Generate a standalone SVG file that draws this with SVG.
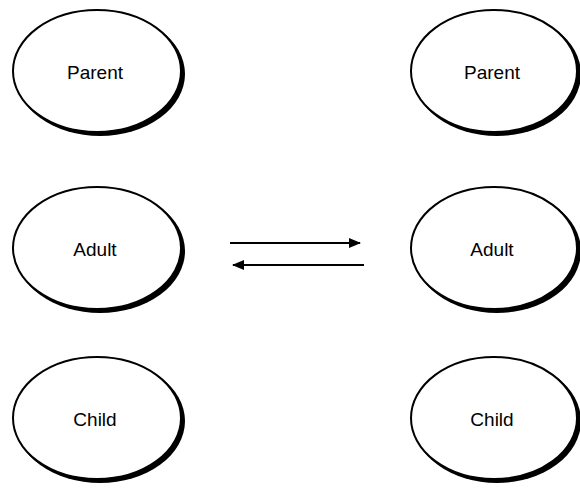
<svg xmlns="http://www.w3.org/2000/svg" width="580" height="488" viewBox="0 0 580 488">
  <style>
    .shadow { fill: #000; }
    .oval { fill: #fff; stroke: #000; stroke-width: 2; }
    .label { font-family: "Liberation Sans", Arial, sans-serif; font-size: 19px; fill: #000; text-anchor: middle; }
    .link { stroke: #000; stroke-width: 2; fill: none; }
  </style>
  <defs>
    <marker id="head" viewBox="0 0 12 10" refX="11" refY="5" markerWidth="12" markerHeight="10" markerUnits="userSpaceOnUse" orient="auto">
      <path d="M0,0 L12,5 L0,10 Z" fill="#000"/>
    </marker>
  </defs>
  <rect width="580" height="488" fill="#fff"/>

  <!-- left column -->
  <g id="left-parent">
    <ellipse class="shadow" cx="100" cy="74" rx="85" ry="62"/>
    <ellipse class="oval" cx="97" cy="71" rx="84" ry="61"/>
    <text class="label" x="95" y="79">Parent</text>
  </g>
  <g id="left-adult">
    <ellipse class="shadow" cx="100" cy="251" rx="85" ry="62"/>
    <ellipse class="oval" cx="97" cy="248" rx="84" ry="61"/>
    <text class="label" x="95" y="256">Adult</text>
  </g>
  <g id="left-child">
    <ellipse class="shadow" cx="100" cy="421" rx="85" ry="62"/>
    <ellipse class="oval" cx="97" cy="418" rx="84" ry="61"/>
    <text class="label" x="95" y="426">Child</text>
  </g>

  <!-- right column -->
  <g id="right-parent">
    <ellipse class="shadow" cx="497" cy="74" rx="84" ry="62"/>
    <ellipse class="oval" cx="494" cy="71" rx="83" ry="61"/>
    <text class="label" x="492" y="79">Parent</text>
  </g>
  <g id="right-adult">
    <ellipse class="shadow" cx="497" cy="251" rx="84" ry="62"/>
    <ellipse class="oval" cx="494" cy="248" rx="83" ry="61"/>
    <text class="label" x="492" y="256">Adult</text>
  </g>
  <g id="right-child">
    <ellipse class="shadow" cx="497" cy="421" rx="84" ry="62"/>
    <ellipse class="oval" cx="494" cy="418" rx="83" ry="61"/>
    <text class="label" x="492" y="426">Child</text>
  </g>

  <!-- transaction arrows between the two Adult states -->
  <g id="connectors">
    <line class="link" x1="230" y1="243" x2="360" y2="243" marker-end="url(#head)"/>
    <line class="link" x1="364" y1="265" x2="233" y2="265" marker-end="url(#head)"/>
  </g>
</svg>
